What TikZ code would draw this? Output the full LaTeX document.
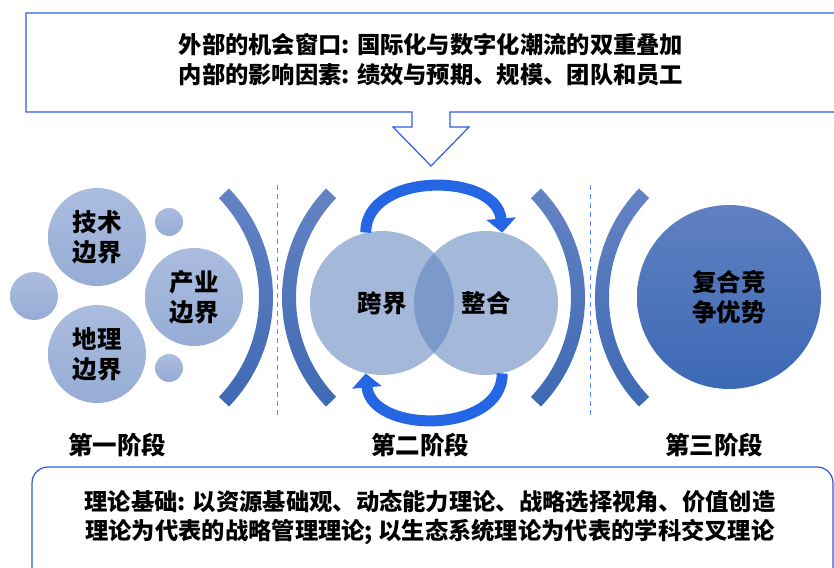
\documentclass[tikz,border=0pt]{standalone}
\usepackage{fontspec}
\setmainfont{Noto Sans CJK SC}
\usetikzlibrary{arrows.meta,positioning}

\definecolor{frameblue}{RGB}{47,91,224}
\definecolor{sepblue}{RGB}{90,140,255}
\definecolor{bubtop}{RGB}{171,189,223}
\definecolor{bubbot}{RGB}{150,172,213}
\definecolor{brtop}{RGB}{100,131,196}
\definecolor{brbot}{RGB}{62,105,179}
\definecolor{vennfill}{RGB}{92,129,189}
\definecolor{bigtop}{RGB}{96,128,194}
\definecolor{bigbot}{RGB}{60,105,180}
\definecolor{cyclearrow}{RGB}{36,102,228}

\begin{document}
\begin{tikzpicture}[x=1pt,y=1pt,semithick,node distance=117pt]
        \tikzstyle{every node}=[font=\bfseries\fontsize{24.5}{30}\selectfont,text=black,align=center]
        \tikzstyle{boxtext}=[font=\bfseries\fontsize{23.3}{30}\selectfont]
        \tikzstyle{frame}=[draw=frameblue,line width=1.2pt]
        \tikzstyle{bubble}=[circle,inner sep=0pt,minimum size=98pt,top color=bubtop,bottom color=bubbot]
        \tikzstyle{dot}=[circle,inner sep=0pt,minimum size=28pt,top color=bubtop,bottom color=bubbot]
        \tikzstyle{bracket}=[top color=brtop,bottom color=brbot,draw=none]
        \tikzstyle{sep}=[draw=sepblue,dashed,dash pattern=on 5pt off 4pt,line width=1pt]
        \tikzstyle{venn}=[circle,inner sep=0pt,minimum size=144pt,fill=vennfill,fill opacity=0.56,text opacity=1]
        \tikzstyle{cycle}=[draw=cyclearrow,line width=11pt,-{Triangle[width=29pt,length=14pt]}]

        \useasboundingbox (0,0) rectangle (834,567);
        \clip (0,0) rectangle (834,567);

        % top window with arrow
        \draw[frame] (412,455) -- (26,455) -- (26,554) -- (870,554) -- (870,455) -- (450,455)
              -- (450,440) -- (469,440) -- (431,401) -- (393,440) -- (412,440) -- cycle;
        \node[boxtext] (window) at (431,507) {外部的机会窗口: 国际化与数字化潮流的双重叠加\\内部的影响因素: 绩效与预期、规模、团队和员工};

        % stage one
        \node[bubble] (tech)               at (97,330) {技术\\边界};
        \node[bubble] (geo)  [below of=tech]           {地理\\边界};
        \node[bubble] (ind)                at (194,270) {产业\\边界};
        \node[dot]    (dottop)             at (169,345) {};
        \node[dot]    (dotbot)             at (169,199) {};
        \node[dot,minimum size=48pt] (dotleft) at (34,271) {};

        % brackets and separators
        \shade[bracket] (116,269.5) ++(-44:143) arc[start angle=-44,end angle=44,radius=143]
              -- ++(44:14) arc[start angle=44,end angle=-44,radius=157] -- cycle;
        \shade[bracket] (439,269.5) ++(136:143) arc[start angle=136,end angle=224,radius=143]
              -- ++(224:14) arc[start angle=224,end angle=136,radius=157] -- cycle;
        \shade[bracket] (428,269.5) ++(-44:143) arc[start angle=-44,end angle=44,radius=143]
              -- ++(44:14) arc[start angle=44,end angle=-44,radius=157] -- cycle;
        \shade[bracket] (752,269.5) ++(136:143) arc[start angle=136,end angle=224,radius=143]
              -- ++(224:14) arc[start angle=224,end angle=136,radius=157] -- cycle;
        \draw[sep] (277,382) -- (277,152);
        \draw[sep] (590,382) -- (590,152);

        % stage two
        \node[venn] (cross) at (382,264) {跨界};
        \node[venn] (merge) at (486,264) {整合};
        \draw[cycle] (cross.103) to[out=90,in=95,distance=61pt] (merge.77);
        \draw[cycle] (merge.283) to[out=-90,in=-85,distance=61pt] (cross.257);

        % stage three
        \node[circle,inner sep=0pt,minimum size=184pt,top color=bigtop,bottom color=bigbot] (adv) at (729,270) {复合竞\\争优势};

        \node (stage1) at (117,122)                        {第一阶段};
        \node (stage2) [right of=stage1,node distance=303pt] {第二阶段};
        \node (stage3) [right of=stage2,node distance=294pt] {第三阶段};

        % theory box
        \draw[frame,rounded corners=16pt] (32,-30) rectangle (833,100);
        \node[boxtext,font=\bfseries\fontsize{23.3}{29}\selectfont] (theory) at (430,49.5)
              {理论基础: 以资源基础观、动态能力理论、战略选择视角、价值创造\\理论为代表的战略管理理论; 以生态系统理论为代表的学科交叉理论};
\end{tikzpicture}
\end{document}
